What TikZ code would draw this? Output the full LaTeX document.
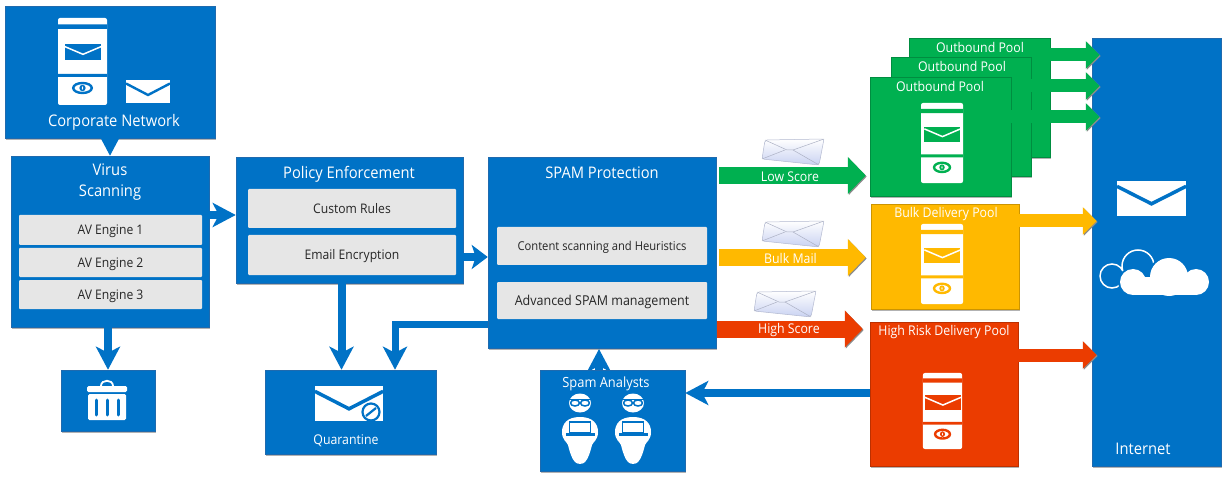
\documentclass[tikz,border=0pt]{standalone}
\usepackage{fontspec}
\setmainfont{Open Sans}[FakeStretch=.92]
\usepackage{tikz}
\usetikzlibrary{arrows.meta, shadows}

\definecolor{corpblue}{HTML}{0072C6}
\definecolor{edgeblue}{HTML}{1F6AAE}
\definecolor{lowgreen}{HTML}{00B050}
\definecolor{bulkamber}{HTML}{FFB900}
\definecolor{highred}{HTML}{EB3C00}
\definecolor{enginegray}{HTML}{E6E6E6}
\definecolor{mailblue}{HTML}{C9D2F2}

\tikzset{
    pics/envelope/.style n args={3}{code={
        \fill[#1] (-22,-11.5) rectangle (22,11.5);
        \draw[#2, line width=#3] (-22,-8) -- (0,3.5) -- (22,-8);
    }},
    pics/mailserver/.style={code={
        \fill[white, rounded corners=2pt] (-24.5,-43.5) rectangle (24.5,43.5);
        \fill[#1] (-24.5,-37.2) rectangle (24.5,-32.5) (-24.5,12.5) rectangle (24.5,15.5);
        \pic[xscale=.82, yscale=.67] at (0.5,-9.5) {envelope={#1}{white}{1.5pt}};
        \draw[#1, line width=2.4pt] (0,26.5) ellipse (9.3 and 5);
        \fill[#1] (0,26.5) circle (3.2);
        \fill[white] (0,26.5) ellipse (.7 and 1.8);
    }},
    pics/analyst/.style={code={
        \fill[white] (0,0) ellipse (11 and 9.5);
        \draw[corpblue, line width=1pt] (-11,-3.5) -- (11,-3.5);
        \draw[corpblue, line width=1.5pt, fill=white] (-5,0) ellipse (4.5 and 3) (5,0) ellipse (4.5 and 3);
        \fill[white] (0,14) .. controls (-13,14) and (-18,21) .. (-18,29) .. controls (-18,37) and (-13,39) .. (-12,42)
            .. controls (-10,50) and (-8,56) .. (-5,59) .. controls (-3,61.5) and (3,61.5) .. (5,59)
            .. controls (8,56) and (10,50) .. (12,42) .. controls (13,39) and (18,37) .. (18,29)
            .. controls (18,21) and (13,14) .. (0,14) -- cycle;
        \draw[corpblue, line width=1.3pt, fill=white] (-10.7,19) rectangle (10.7,30);
        \fill[corpblue] (-14.5,30) rectangle (14.5,33);
    }},
    pics/glossymail/.style={code={
        \draw[mailblue!70!gray, line width=.5pt, top color=white, bottom color=mailblue, rounded corners=2pt]
            (-25,-12) -- (34,-13) -- (29,13) -- (-28,7) -- cycle;
        \draw[mailblue!60!gray, line width=.5pt] (-25,-12) -- (-3,-2) -- (3,-2) -- (34,-13);
        \draw[mailblue!60!gray, line width=.5pt] (-28,7) -- (-5,-2) (3,-2) -- (29,13);
    }}
}

\begin{document}
\begin{tikzpicture}[x=1pt, y=-1pt,
    main/.style = {rectangle, inner sep=0pt, text=white, draw=edgeblue, line width=.5pt, fill=corpblue,
        drop shadow={shadow xshift=1pt, shadow yshift=-2pt, opacity=.3, fill=black}},
    pool/.style = {main, draw=#1!80!black, fill=#1},
    engine/.style = {rectangle, rounded corners=1pt, inner sep=0pt, fill=enginegray, text=black!85, text height=10pt, text depth=0pt,
        font=\fontsize{13.2}{16}\selectfont},
    title/.style = {text=white, inner sep=0pt, align=center, font=\fontsize{16}{21}\selectfont},
    small/.style = {text=white, inner sep=0pt, font=\fontsize{13.4}{16}\selectfont},
    flow/.style = {corpblue, line width=8pt, -{Stealth[length=23pt, width=24pt, inset=6pt]}},
    score/.style = {#1, line width=17pt, -{Triangle[length=18pt, width=36pt]},
        preaction={draw=black!45, -{Triangle[length=18pt, width=36pt]}, transform canvas={xshift=1pt, yshift=-1pt}}},
    out/.style = {#1, line width=13pt, -{Triangle[length=14pt, width=27pt]},
        preaction={draw=black!45, -{Triangle[length=14pt, width=27pt]}, transform canvas={xshift=1pt, yshift=-1pt}}}]
    \useasboundingbox (0,0) rectangle (1228,478);

    \node[main, minimum width=129pt, minimum height=428pt] at (1156.5,252) (internet) {};
    \pic[xscale=1.57, yscale=1.52] at (1151.5,198.5) {envelope={white}{corpblue}{3.5pt}};
    \draw[white, line width=1.5pt] (1138,266) circle (16) (1112,276) circle (12);
    \draw[corpblue, line width=4pt] (1133,282) circle (13) (1169,277) circle (19) (1196,282) circle (13);
    \fill[white] (1133,282) circle (13);
    \fill[white] (1169,277) circle (19);
    \fill[white] (1196,282) circle (13);
    \fill[white] (1133,277) rectangle (1196,295);
    \node[title] at (1143,449) (internetlabel) {Internet};

    \node[main, minimum width=210pt, minimum height=132pt] at (110,72) (corporate) {};
    \pic at (82.5,61.5) {mailserver=corpblue};
    \pic at (148,91.5) {envelope={white}{corpblue}{2.4pt}};
    \node[title] at (114,122) (corporatelabel) {Corporate Network};

    \node[main, minimum width=198pt, minimum height=171pt] at (110,241.5) (virus) {};
    \node[title] at (110,182.5) (viruslabel) {Virus\\Scanning};
    \node[engine, minimum width=183pt, minimum height=30pt] at (110.5,230) (avone) {AV Engine 1};
    \node[engine, minimum width=183pt, minimum height=29pt] at (110.5,262.5) (avtwo) {AV Engine 2};
    \node[engine, minimum width=183pt, minimum height=29pt] at (110.5,294.5) (avthree) {AV Engine 3};

    \node[main, minimum width=227pt, minimum height=126pt] at (349.5,220) (policy) {};
    \node[title] at (349,174) (policylabel) {Policy Enforcement};
    \node[engine, minimum width=208pt, minimum height=39pt] at (352,208.5) (customrules) {Custom Rules};
    \node[engine, minimum width=208pt, minimum height=40pt] at (352,255) (encryption) {Email Encryption};

    \node[main, minimum width=228pt, minimum height=191pt] at (602,252.5) (spam) {};
    \node[title] at (602,173) (spamlabel) {SPAM Protection};
    \node[engine, minimum width=210pt, minimum height=38pt, font=\fontsize{12.2}{15}\selectfont] at (602,246) (heuristics) {Content scanning and Heuristics};
    \node[engine, minimum width=210pt, minimum height=37pt, font=\fontsize{13.6}{16}\selectfont] at (602,300.5) (advanced) {Advanced SPAM management};

    \node[main, minimum width=94pt, minimum height=61pt] at (108,400.5) (trash) {};
    \fill[white, rounded corners=1.5pt] (87,386) rectangle (127,392) (88,394) rectangle (126,420);
    \draw[white, line width=1.8pt] (101,386) .. controls (101,379) and (113,379) .. (113,386);
    \draw[corpblue, line width=3pt, line cap=round] (96,400) -- (96,415) (107,400) -- (107,415) (118,400) -- (118,415);

    \node[main, minimum width=171pt, minimum height=84pt] at (350.5,412) (quarantine) {};
    \pic[xscale=1.55, yscale=1.52] at (349,403.5) {envelope={white}{corpblue}{3.5pt}};
    \draw[corpblue, line width=2.2pt, fill=white] (371,412) circle (8.5);
    \draw[corpblue, line width=2.2pt] (366,416) -- (376,408);
    \node[small] at (346,441) (quarantinelabel) {Quarantine};

    \draw[flow] (599,370) -- (599,349);
    \node[main, minimum width=145pt, minimum height=101pt] at (612.5,420.5) (analysts) {};
    \node[small, font=\fontsize{14}{18}\selectfont] at (606,384) (analystslabel) {Spam Analysts};
    \pic at (580,403) {analyst};
    \pic at (633,403) {analyst};

    \node[pool=lowgreen, minimum width=141pt, minimum height=119pt] at (979.5,97.5) (poolc) {};
    \node[small] at (980,47) (poolclabel) {Outbound Pool};
    \node[pool=lowgreen, minimum width=140pt, minimum height=119pt] at (961,116.5) (poolb) {};
    \node[small] at (962,66) (poolblabel) {Outbound Pool};
    \draw[out=lowgreen] (poolc.east |- 0,55) -- ([xshift=8pt]internet.west |- 0,55);
    \draw[out=lowgreen] (poolb.east |- 0,86) -- ([xshift=8pt]internet.west |- 0,86);
    \node[pool=lowgreen, minimum width=141pt, minimum height=119pt] at (940.5,136.5) (poola) {};
    \node[small] at (940,86) (poolalabel) {Outbound Pool};
    \pic[xscale=.857, yscale=.92] at (942,143) {mailserver=lowgreen};
    \draw[out=lowgreen] (poola.east |- 0,117) -- ([xshift=8pt]internet.west |- 0,117);

    \node[pool=bulkamber, minimum width=148pt, minimum height=105pt] at (945,256.5) (bulkpool) {};
    \node[small] at (946,214) (bulklabel) {Bulk Delivery Pool};
    \pic[xscale=.857, yscale=.92] at (942,264) {mailserver=bulkamber};
    \draw[out=bulkamber] (bulkpool.east |- 0,221) -- ([xshift=5pt]internet.west |- 0,221);

    \node[pool=highred, minimum width=148pt, minimum height=144pt] at (944,394) (highpool) {};
    \node[small] at (944,332) (highlabel) {High Risk Delivery Pool};
    \pic[xscale=.8, yscale=.874] at (942.5,411) {mailserver=highred};
    \draw[out=highred] (highpool.east |- 0,355) -- ([xshift=5pt]internet.west |- 0,355);

    \draw[flow, line width=6pt] (corporate.south) -- (virus.north);
    \draw[flow] (virus.east |- 0,215) -- (policy.west |- 0,215);
    \draw[flow] (trash.north |- virus.south) -- (trash.north);
    \draw[flow] (341.5,0 |- policy.south) -- (341.5,0 |- quarantine.north);
    \draw[flow, -{Stealth[length=16pt, width=24pt, inset=4pt]}] (policy.east |- 0,257) -- (spam.west |- 0,257);
    \draw[flow, line width=7pt] (spam.west |- 0,324) -| (395,0 |- quarantine.north);
    \draw[flow] (highpool.west |- 0,393) -- (analysts.east |- 0,393);

    \pic at (790,152) {glossymail};
    \pic at (790,234) {glossymail};
    \pic at (782,304) {glossymail};
    \draw[score=lowgreen, shorten >=4pt] (spam.east |- 0,175.5) ++(3,0) -- (poola.west |- 0,175.5) node[pos=.47, small, yshift=-1pt] (lowlabel) {Low Score};
    \draw[score=bulkamber, shorten >=5pt] (spam.east |- 0,257.5) ++(3,0) -- (bulkpool.west |- 0,257.5) node[pos=.47, small, yshift=-1pt] (bulkmaillabel) {Bulk Mail};
    \draw[score=highred, shorten >=7pt] (spam.east |- 0,329) ++(1,0) -- (highpool.west |- 0,329) node[pos=.47, small, yshift=-1pt] (highscorelabel) {High Score};
\end{tikzpicture}
\end{document}
